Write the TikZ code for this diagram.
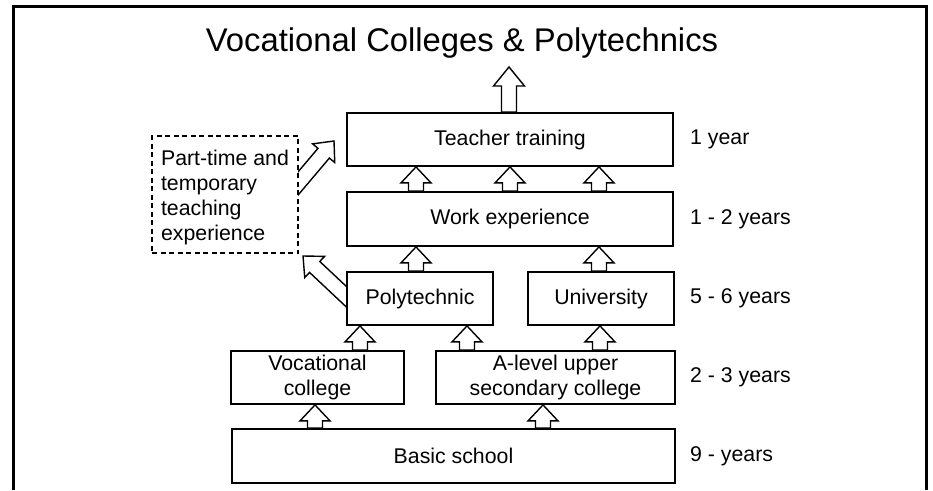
\documentclass[tikz,border=0pt]{standalone}
\usepackage{fontspec}
\setmainfont{Liberation Sans}
\usetikzlibrary{calc}
\newcommand{\arrsw}{7.5pt}
\newcommand{\blockarr}[4][16pt]{% #1 head length, #2 half head width, #3 start, #4 tip
  \filldraw[blockarrow]
    ($(#3)!\arrsw!90:(#4)$) --
    ($(#4)!#1!(#3)!\arrsw!90:(#4)$) --
    ($(#4)!#1!(#3)!#2!90:(#4)$) --
    (#4) --
    ($(#4)!#1!(#3)!#2!-90:(#4)$) --
    ($(#4)!#1!(#3)!\arrsw!-90:(#4)$) --
    ($(#3)!\arrsw!-90:(#4)$) -- cycle;}
\tikzset{
  box/.style={draw, fill=white, line width=1.8pt, inner sep=0pt, align=center,
    font=\fontsize{21.3}{25}\selectfont},
  yrs/.style={anchor=west, inner sep=0pt, font=\fontsize{21.3}{25}\selectfont},
  blockarrow/.style={draw, fill=white, line width=1.4pt, line join=miter},
  frame/.style={line width=3pt},
}
\begin{document}
\begin{tikzpicture}[x=1pt, y=-1pt]
\useasboundingbox (0,0) rectangle (933,490);
\draw[frame] (13,490) -- (13,6) -- (926,6) -- (926,490);
\node[inner sep=0pt, font=\fontsize{32.8}{36}\selectfont] (title) at (462,43) {Vocational Colleges \& Polytechnics};

% boxes
\node[box, minimum width=326pt, minimum height=53pt] (tt) at (510,139.5) {Teacher training};
\node[box, minimum width=326pt, minimum height=54pt] (we) at (510,219) {Work experience};
\node[box, minimum width=146pt, minimum height=53pt] (po) at (420,298.5) {Polytechnic};
\node[box, minimum width=146pt, minimum height=53pt] (un) at (601,298.5) {University};
\node[box, minimum width=173pt, minimum height=53pt] (vc) at (317.5,377.5) {Vocational\\college};
\node[box, minimum width=239pt, minimum height=53pt] (al) at (555.5,377.5) {A-level upper\\secondary college};
\node[box, minimum width=443pt, minimum height=54pt] (bs) at (453.5,456) {Basic school};

% year labels
\node[yrs] (y1) at (690,139.5) {1 year};
\node[yrs] (y2) at (690,219) {1 - 2 years};
\node[yrs] (y3) at (690,298.5) {5 - 6 years};
\node[yrs] (y4) at (690,377.5) {2 - 3 years};
\node[yrs] (y5) at (690,456) {9 - years};

% arrow end points
\coordinate (top0) at (509,0 |- tt.north);
\coordinate (top1) at (509,67);
\coordinate (a1s) at (416,0 |- we.north); \coordinate (a1e) at (416,0 |- tt.south);
\coordinate (a2s) at (510,0 |- we.north); \coordinate (a2e) at (510,0 |- tt.south);
\coordinate (a3s) at (599,0 |- we.north); \coordinate (a3e) at (599,0 |- tt.south);
\coordinate (b1s) at (416,0 |- po.north); \coordinate (b1e) at (416,0 |- we.south);
\coordinate (b2s) at (599,0 |- un.north); \coordinate (b2e) at (599,0 |- we.south);
\coordinate (c1s) at (360,0 |- vc.north); \coordinate (c1e) at (360,0 |- po.south);
\coordinate (c2s) at (467,0 |- al.north); \coordinate (c2e) at (467,0 |- po.south);
\coordinate (c3s) at (600,0 |- al.north); \coordinate (c3e) at (600,0 |- un.south);
\coordinate (d1s) at (315,0 |- bs.north); \coordinate (d1e) at (315,0 |- vc.south);
\coordinate (d2s) at (543,0 |- bs.north); \coordinate (d2e) at (543,0 |- al.south);
\coordinate (e1s) at (290,193); \coordinate (e1e) at (334,141);
\coordinate (e2s) at (352,302); \coordinate (e2e) at (303,256);

% diagonal arrows (drawn under boxes)
\blockarr{14.5pt}{e1s}{e1e}
\blockarr{14.5pt}{e2s}{e2e}

% dashed box
\node[draw, dashed, fill=white, line width=1.3pt, dash pattern=on 5pt off 3.5pt,
  minimum width=146pt, minimum height=117pt, inner sep=0pt] (pt) at (225,194.5) {};
\node[inner sep=0pt, align=left, font=\fontsize{21.3}{25}\selectfont] (ptt) at ([yshift=-3pt]pt.center) {Part-time and\\temporary\\teaching\\experience};

% redraw polytechnic box over arrow tail
\node[box, minimum width=146pt, minimum height=53pt] at (po) {Polytechnic};

% vertical block arrows
\blockarr[19pt]{15.5pt}{top0}{top1}
\blockarr{15pt}{a1s}{a1e}
\blockarr{15pt}{a2s}{a2e}
\blockarr{15pt}{a3s}{a3e}
\blockarr{15pt}{b1s}{b1e}
\blockarr{15pt}{b2s}{b2e}
\blockarr{15pt}{c1s}{c1e}
\blockarr{15pt}{c2s}{c2e}
\blockarr{15pt}{c3s}{c3e}
\blockarr{15pt}{d1s}{d1e}
\blockarr{15pt}{d2s}{d2e}
\end{tikzpicture}
\end{document}
